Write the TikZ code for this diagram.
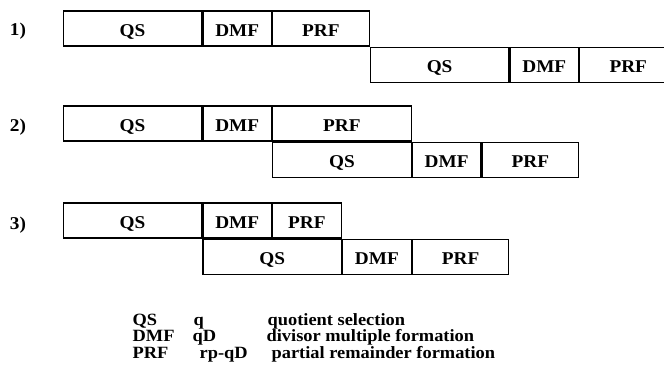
\documentclass[tikz,border=0pt]{standalone}
\usepackage{fontspec}
\setmainfont{Liberation Serif}[FakeStretch=1.07]
\usetikzlibrary{positioning}

\begin{document}
\begin{tikzpicture}[x=1pt,y=-1pt,line width=1.2pt]
\tikzset{CellStyle/.style = {draw,rectangle,inner sep=0pt,
                             minimum height=35pt,
                             text height=16pt,text depth=0pt,
                             font=\fontsize{18}{20}\selectfont\bfseries},
         QsCell/.style = {CellStyle,minimum width=138.5pt},
         DmfCell/.style = {CellStyle,minimum width=68.5pt},
         TextStyle/.style = {inner sep=0pt,anchor=base west,
                             font=\fontsize{18}{20}\selectfont\bfseries},
         LegendStyle/.style = {TextStyle,font=\fontsize{17.2}{18}\selectfont\bfseries}}
\useasboundingbox (0,0) rectangle (664,367);
\clip (0,0) rectangle (664,367);
\node[QsCell] (qsA) at (132.5,28.5) {QS};
\node[DmfCell,right=0pt of qsA] (dmfA) {DMF};
\node[CellStyle,minimum width=96.5pt,right=0pt of dmfA] (prfA) {PRF};
\node[QsCell,below right=0pt and 0pt of prfA.south east] (qsAA) {QS};
\node[DmfCell,right=0pt of qsAA] (dmfAA) {DMF};
\node[CellStyle,minimum width=97pt,right=0pt of dmfAA] (prfAA) {PRF};
\node[QsCell] (qsB) at (132.5,123.5) {QS};
\node[DmfCell,right=0pt of qsB] (dmfB) {DMF};
\node[CellStyle,minimum width=138.5pt,right=0pt of dmfB] (prfB) {PRF};
\node[QsCell,below right=0pt and 0pt of dmfB.south east] (qsBB) {QS};
\node[DmfCell,right=0pt of qsBB] (dmfBB) {DMF};
\node[CellStyle,minimum width=96.5pt,right=0pt of dmfBB] (prfBB) {PRF};
\node[QsCell] (qsC) at (132.5,220.5) {QS};
\node[DmfCell,right=0pt of qsC] (dmfC) {DMF};
\node[DmfCell,right=0pt of dmfC] (prfC) {PRF};
\node[QsCell,below right=0pt and 0pt of qsC.south east] (qsCC) {QS};
\node[DmfCell,right=0pt of qsCC] (dmfCC) {DMF};
\node[CellStyle,minimum width=96.5pt,right=0pt of dmfCC] (prfCC) {PRF};
\node[TextStyle,anchor=base] (labA) at (18,35.5) {1)};
\node[TextStyle,anchor=base] (labB) at (18,131.5) {2)};
\node[TextStyle,anchor=base] (labC) at (18,229.5) {3)};
\node[LegendStyle] (legQS) at (132,325) {QS};
\node[LegendStyle] (legQSop) at (193,325) {q};
\node[LegendStyle] (legQSdesc) at (267,325) {quotient selection};
\node[LegendStyle] (legDMF) at (132,341.5) {DMF};
\node[LegendStyle] (legDMFop) at (192,341.5) {qD};
\node[LegendStyle] (legDMFdesc) at (266,341.5) {divisor multiple formation};
\node[LegendStyle] (legPRF) at (132,358) {PRF};
\node[LegendStyle] (legPRFop) at (199,358) {rp-qD};
\node[LegendStyle] (legPRFdesc) at (271,358) {partial remainder formation};
\end{tikzpicture}
\end{document}
